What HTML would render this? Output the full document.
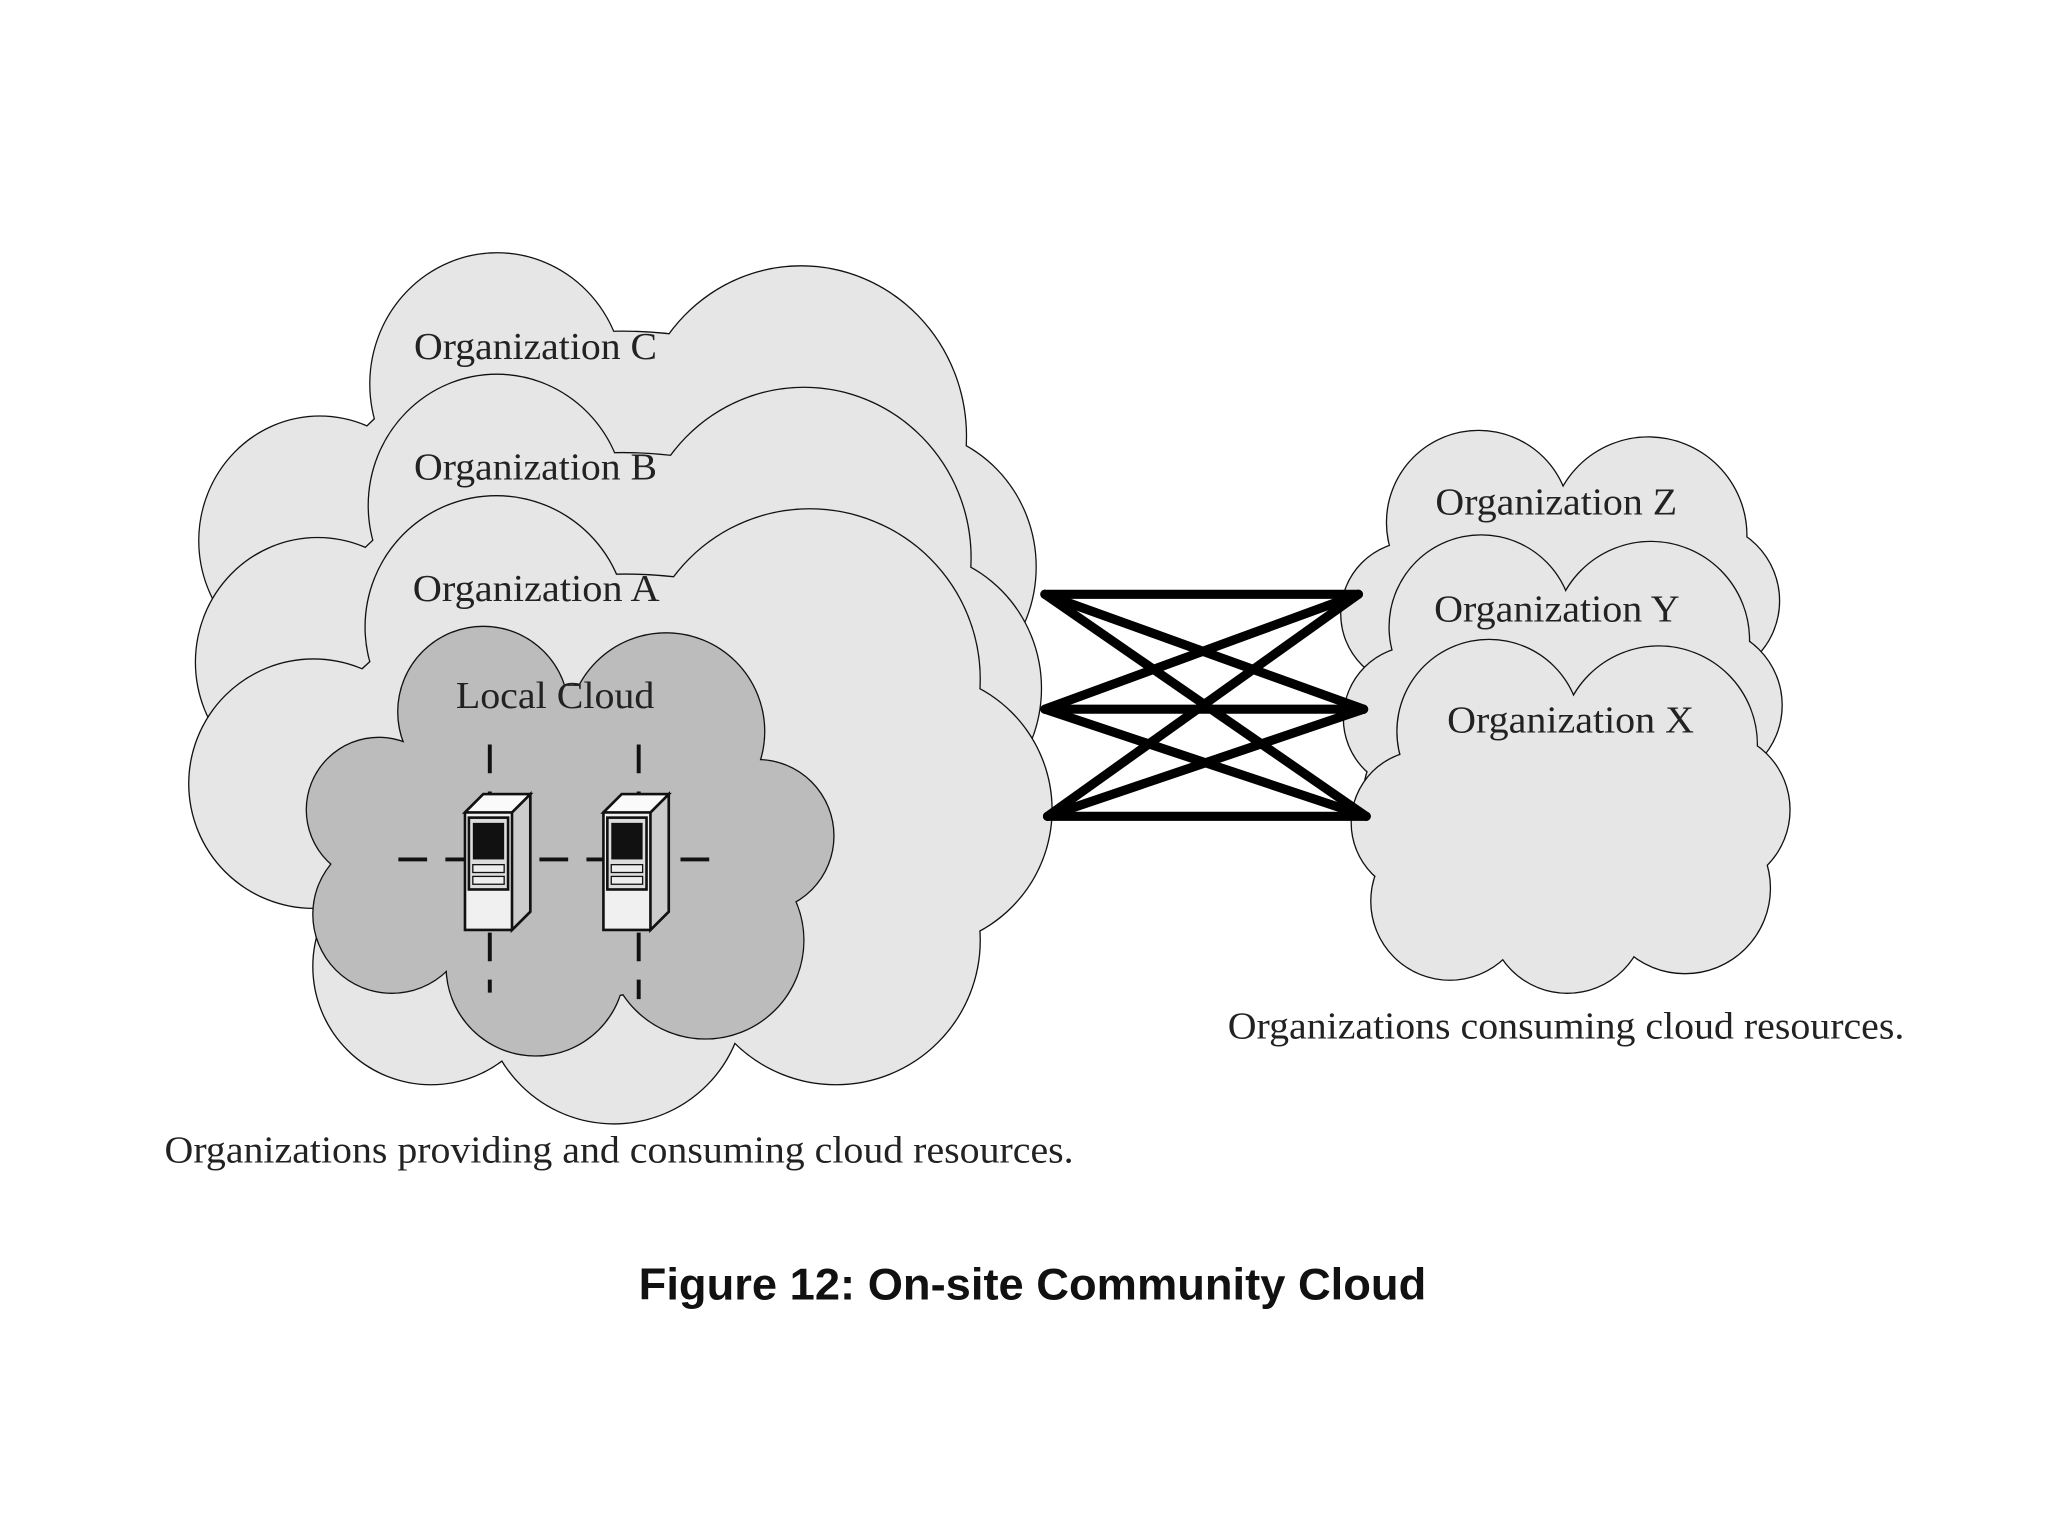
<!DOCTYPE html>
<html><head><style>html,body{margin:0;padding:0;background:#fff}svg{display:block}</style></head>
<body>
<svg width="2048" height="1536" viewBox="0 0 1568 1176" xmlns="http://www.w3.org/2000/svg">
<defs>
<g id="bigc">
<circle cx="380" cy="480" r="100"/><circle cx="620" cy="520" r="130"/><circle cx="240" cy="600" r="95"/>
<circle cx="330" cy="740" r="90"/><circle cx="470" cy="760" r="100"/><circle cx="640" cy="720" r="110"/>
<circle cx="700" cy="620" r="105"/><ellipse cx="478" cy="620" rx="250" ry="180"/>
</g>
<g id="smc">
<circle cx="1140" cy="560" r="70"/><circle cx="1270" cy="570" r="75"/><circle cx="1090" cy="630" r="55"/>
<circle cx="1110" cy="690" r="60"/><circle cx="1200" cy="700" r="60"/><circle cx="1290" cy="680" r="65"/>
<circle cx="1310" cy="620" r="60"/><ellipse cx="1204" cy="625" rx="120" ry="90"/>
</g>
<g id="loc">
<circle cx="370" cy="545" r="65"/><circle cx="510" cy="560" r="75"/><circle cx="290" cy="620" r="55"/>
<circle cx="300" cy="700" r="60"/><circle cx="410" cy="740" r="68"/><circle cx="540" cy="720" r="75"/>
<circle cx="580" cy="640" r="58"/><ellipse cx="437" cy="645" rx="160" ry="120"/>
</g>
<g id="srv">
<path d="M0,14 L14,0 L50,0 L50,90 L36,104 L0,104 Z" fill="#f0f0f0" stroke="#111" stroke-width="2"/>
<path d="M36,14 L50,0 L50,90 L36,104 Z" fill="#ccc" stroke="#111" stroke-width="2"/>
<path d="M0,14 L14,0 L50,0 L36,14 Z" fill="#fafafa" stroke="#111" stroke-width="2"/>
<rect x="3" y="18" width="30" height="55" fill="#ddd" stroke="#111" stroke-width="2"/>
<rect x="6" y="22" width="24" height="28" fill="#111"/>
<rect x="6" y="54" width="24" height="6" fill="#eee" stroke="#111"/>
<rect x="6" y="63" width="24" height="6" fill="#eee" stroke="#111"/>
</g>
</defs>
<g fill="#e6e6e6" stroke="#111" stroke-width="2">
<use href="#bigc" transform="translate(12,-186) scale(0.97,1)"/></g>
<use href="#bigc" transform="translate(12,-186) scale(0.97,1)" fill="#e6e6e6"/>
<g fill="#e6e6e6" stroke="#111" stroke-width="2"><use href="#bigc" transform="translate(8,-93) scale(0.98,1)"/></g>
<use href="#bigc" transform="translate(8,-93) scale(0.98,1)" fill="#e6e6e6"/>
<g fill="#e6e6e6" stroke="#111" stroke-width="2"><use href="#bigc"/></g>
<use href="#bigc" fill="#e6e6e6"/>
<g fill="#bcbcbc" stroke="#111" stroke-width="2"><use href="#loc"/></g>
<use href="#loc" fill="#bcbcbc"/>

<g fill="#e6e6e6" stroke="#111" stroke-width="2"><use href="#smc" transform="translate(-8,-160)"/></g>
<use href="#smc" transform="translate(-8,-160)" fill="#e6e6e6"/>
<g fill="#e6e6e6" stroke="#111" stroke-width="2"><use href="#smc" transform="translate(-6,-80)"/></g>
<use href="#smc" transform="translate(-6,-80)" fill="#e6e6e6"/>
<g fill="#e6e6e6" stroke="#111" stroke-width="2"><use href="#smc"/></g>
<use href="#smc" fill="#e6e6e6"/>

<g stroke="#000" stroke-width="7" stroke-linecap="round">
<line x1="800" y1="455" x2="1040" y2="455"/><line x1="800" y1="455" x2="1044" y2="543"/><line x1="800" y1="455" x2="1046" y2="625"/>
<line x1="800" y1="543" x2="1040" y2="455"/><line x1="800" y1="543" x2="1044" y2="543"/><line x1="800" y1="543" x2="1046" y2="625"/>
<line x1="802" y1="625" x2="1040" y2="455"/><line x1="802" y1="625" x2="1044" y2="543"/><line x1="802" y1="625" x2="1046" y2="625"/>
</g>

<g stroke="#111" stroke-width="3" stroke-dasharray="22,14">
<line x1="305" y1="658" x2="555" y2="658"/>
<line x1="375" y1="570" x2="375" y2="760"/>
<line x1="489" y1="570" x2="489" y2="765"/>
</g>
<use href="#srv" transform="translate(356,608)"/>
<use href="#srv" transform="translate(462,608)"/>

<g font-family="Liberation Serif, serif" font-size="29" fill="#222" lengthAdjust="spacingAndGlyphs">
<text x="317" y="275" textLength="186" lengthAdjust="spacingAndGlyphs">Organization C</text>
<text x="317" y="367" textLength="186" lengthAdjust="spacingAndGlyphs">Organization B</text>
<text x="316" y="460" textLength="189" lengthAdjust="spacingAndGlyphs">Organization A</text>
<text x="349" y="542" textLength="152" lengthAdjust="spacingAndGlyphs">Local Cloud</text>
<text x="1099" y="394" textLength="185" lengthAdjust="spacingAndGlyphs">Organization Z</text>
<text x="1098" y="476" textLength="188" lengthAdjust="spacingAndGlyphs">Organization Y</text>
<text x="1108" y="561" textLength="189" lengthAdjust="spacingAndGlyphs">Organization X</text>
<text x="940" y="795" textLength="518" lengthAdjust="spacingAndGlyphs">Organizations consuming cloud resources.</text>
<text x="126" y="890" textLength="696" lengthAdjust="spacingAndGlyphs">Organizations providing and consuming cloud resources.</text>
</g>
<text x="489" y="995" font-family="Liberation Sans, sans-serif" font-weight="bold" font-size="34" fill="#111" textLength="603" lengthAdjust="spacingAndGlyphs">Figure 12: On-site Community Cloud</text>
</svg>
</body></html>
